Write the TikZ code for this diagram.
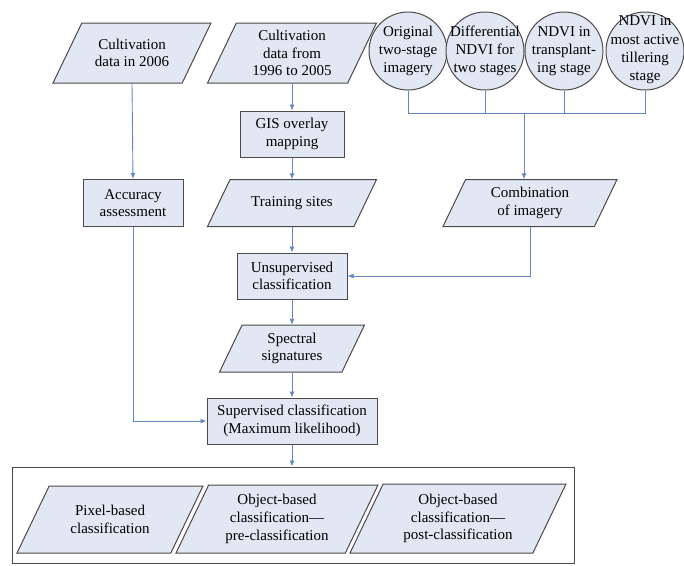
\documentclass[tikz,border=0pt]{standalone}
\usepackage{fontspec}
\setmainfont{Liberation Serif}
\usetikzlibrary{arrows.meta}
\definecolor{boxfill}{HTML}{E1E8F3}
\definecolor{boxline}{HTML}{4A4A4A}
\definecolor{connblue}{HTML}{6487C4}
\tikzset{
  parashape/.style={fill=boxfill, draw=boxline, line width=1pt, line join=miter},
  boxtext/.style={align=center, inner sep=0pt, font=\fontsize{15}{17.7}\selectfont},
  rectbox/.style={rectangle, fill=boxfill, draw=boxline, line width=1pt, align=center, inner sep=0pt, font=\fontsize{15}{17.7}\selectfont},
  circbox/.style={circle, fill=boxfill, draw=boxline, line width=1pt, minimum size=78pt, inner sep=0pt},
  circtext/.style={align=center, inner sep=0pt, font=\fontsize{15}{18.3}\selectfont},
  outerbox/.style={rectangle, draw=boxline, line width=1pt, inner sep=0pt},
  conn/.style={draw=connblue, line width=0.9pt, -{Latex[length=6pt,width=5pt]}},
  plainline/.style={draw=connblue, line width=0.9pt}
}
\newcommand\mypara[6]{%
  \filldraw[parashape] ({#2-#4/2+0.48*#5},{#3-#5/2}) -- ({#2+#4/2},{#3-#5/2}) -- ({#2+#4/2-0.48*#5},{#3+#5/2}) -- ({#2-#4/2},{#3+#5/2}) -- cycle;
  \node[boxtext, minimum width=#4, minimum height=#5] (#1) at (#2,#3) {#6};%
}
\begin{document}
\begin{tikzpicture}[x=1pt,y=-1pt]
\useasboundingbox (0,0) rectangle (684,565);
% top row
\mypara{p2006}{132}{53}{158}{60}{Cultivation\\data in 2006}
\mypara{p9605}{292}{53}{169}{60}{Cultivation\\data from\\1996 to 2005}
\node[circbox] (c1) at (408,51) {};
\node[circbox] (c2) at (485,51) {};
\node[circbox] (c3) at (564,51) {};
\node[circbox] (c4) at (645,51) {};
\node[circtext] (c1t) at (c1) {Original\\two-stage\\imagery};
\node[circtext] (c2t) at (c2) {Differential\\NDVI for\\two stages};
\node[circtext] (c3t) at (c3) {NDVI in\\transplant-\\ing stage};
\node[circtext] (c4t) at (645,50) {NDVI in\\most active\\tillering\\stage};
% middle
\node[rectbox, minimum width=104, minimum height=46] (gis) at (292,134) {GIS overlay\\mapping};
\node[rectbox, minimum width=100, minimum height=47] (acc) at (133,203) {Accuracy\\assessment};
\mypara{train}{292}{203}{169}{47}{Training sites}
\mypara{comb}{530}{203}{174}{47}{Combination\\of imagery}
\node[rectbox, minimum width=110, minimum height=46] (unsup) at (292,276) {Unsupervised\\classification};
\mypara{spec}{292}{348.5}{145}{47}{Spectral\\signatures}
\node[rectbox, minimum width=170, minimum height=46] (sup) at (292,421) {Supervised classification\\(Maximum likelihood)};
% bottom
\node[outerbox, minimum width=562, minimum height=96] (outer) at (293,515) {};
\mypara{pix}{110}{519.5}{186}{67}{Pixel-based\\classification}
\mypara{obj1}{277}{519}{202}{68}{Object-based\\classification—\\pre-classification}
\mypara{obj2}{458}{518.5}{216}{69}{Object-based\\classification—\\post-classification}
% connectors
\coordinate (jn) at (524,113);
\draw[plainline] (c1.south) -- (c1.south |- jn) -- (c4.south |- jn) -- (c4.south);
\draw[plainline] (c2.south) -- (c2.south |- jn);
\draw[plainline] (c3.south) -- (c3.south |- jn);
\draw[conn] (jn) -- (jn |- comb.north);
\draw[conn] (p2006.south) -- (acc.north);
\draw[conn] (p9605.south) -- (gis.north);
\draw[conn] (gis.south) -- (train.north);
\draw[conn] (train.south) -- (unsup.north);
\draw[conn] (unsup.south) -- (spec.north);
\draw[conn] (spec.south) -- (sup.north);
\draw[conn] (sup.south) -- (outer.north -| sup.south);
\draw[conn] (acc.south) |- (sup.west);
\draw[conn] (comb.south) |- (unsup.east);
\end{tikzpicture}
\end{document}
